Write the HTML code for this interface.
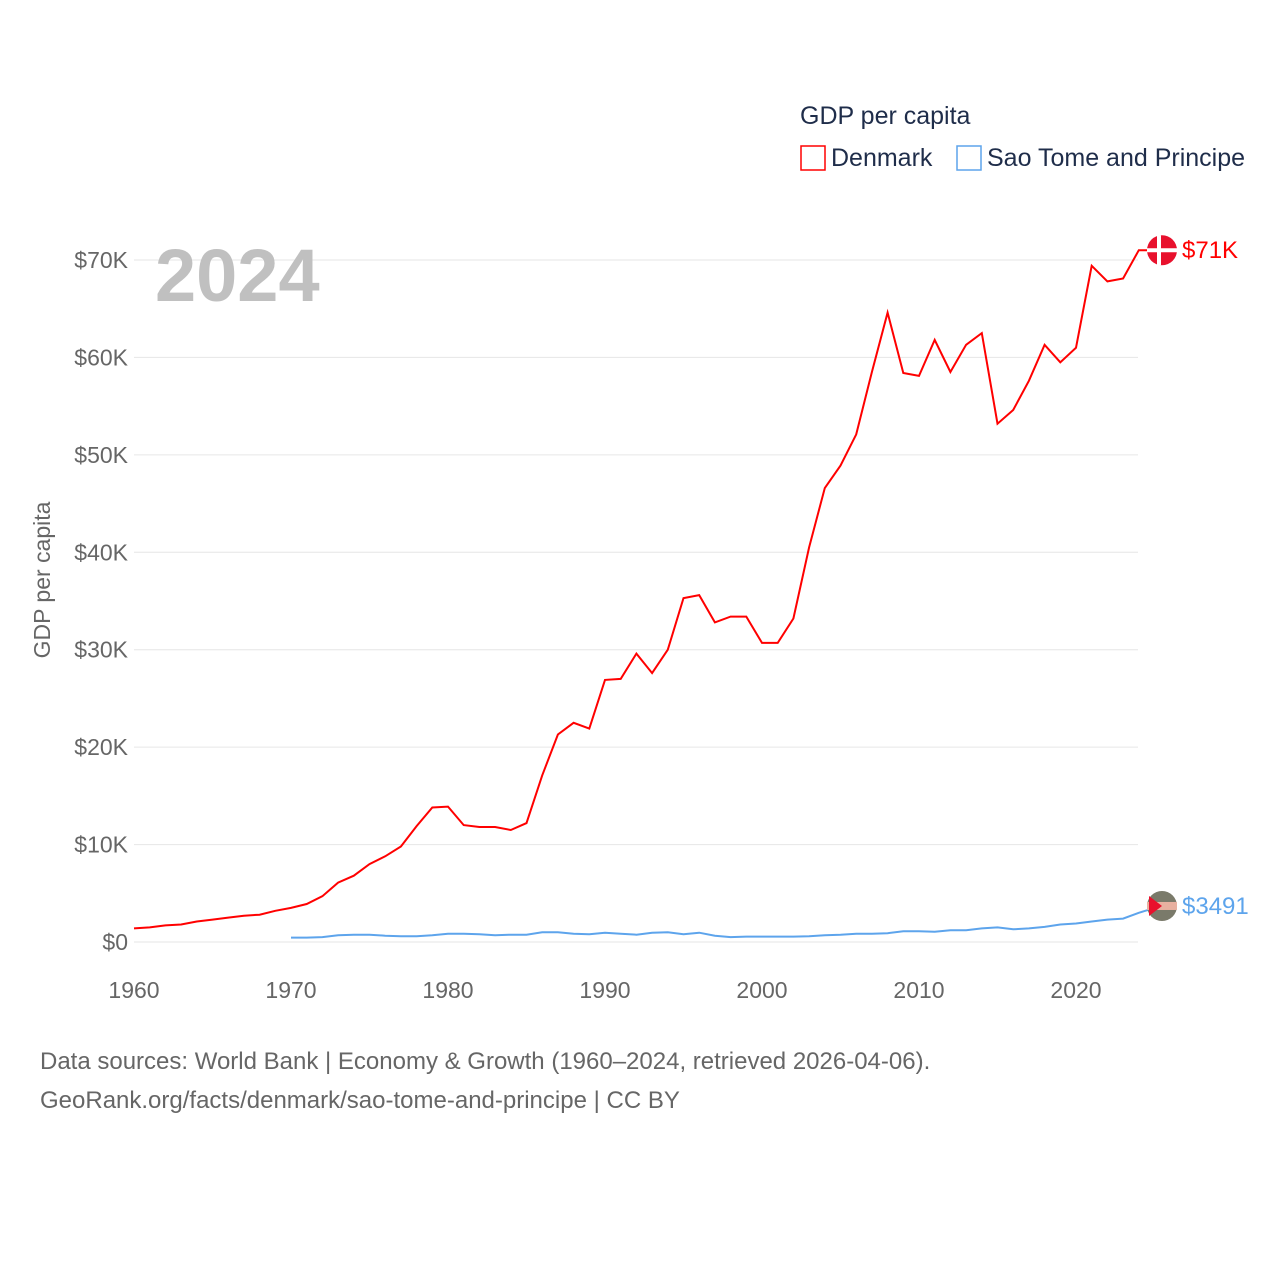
<!DOCTYPE html>
<html><head><meta charset="utf-8"><style>
body{margin:0;background:#fff;}
svg{display:block;font-family:"Liberation Sans",sans-serif;}
</style></head><body>
<svg id="chart" width="1280" height="1280" viewBox="0 0 1280 1280">
<text x="800" y="124" font-size="25" fill="#1f2d4a">GDP per capita</text>
<g>
<rect x="801" y="146" width="24" height="24" fill="none" stroke="#ff0000" stroke-width="1.5"/>
<text x="831" y="166" font-size="25" fill="#1f2d4a">Denmark</text></g>
<g>
<rect x="957" y="146" width="24" height="24" fill="none" stroke="#5da4ec" stroke-width="1.5"/>
<text x="987" y="166" font-size="25" fill="#1f2d4a">Sao Tome and Principe</text></g>
<g id="grid"></g>
<text x="155" y="301" font-size="74" font-weight="bold" fill="#c0c0c0">2024</text>
<text transform="translate(50,580) rotate(-90)" text-anchor="middle" font-size="23" fill="#666">GDP per capita</text>
<g id="series"></g>
<text x="40" y="1069" font-size="24" fill="#666">Data sources: World Bank | Economy &amp; Growth (1960–2024, retrieved 2026-04-06).</text>
<text x="40" y="1108" font-size="24" fill="#666">GeoRank.org/facts/denmark/sao-tome-and-principe | CC BY</text>
</svg>
<script>
const yTicks=[0,10,20,30,40,50,60,70];
const xTicks=[1960,1970,1980,1990,2000,2010,2020];
const denmarkYears0=1960;
const denmark=[1.4,1.5,1.7,1.8,2.1,2.3,2.5,2.7,2.8,3.2,3.5,3.9,4.7,6.1,6.8,8.0,8.8,9.8,11.9,13.8,13.9,12.0,11.8,11.8,11.5,12.2,17.1,21.3,22.5,21.9,26.9,27.0,29.6,27.6,30.0,35.3,35.6,32.8,33.4,33.4,30.7,30.7,33.2,40.5,46.6,48.9,52.1,58.5,64.6,58.4,58.1,61.8,58.5,61.3,62.5,53.2,54.6,57.6,61.3,59.5,61.0,69.4,67.8,68.1,71.0];
const stpYears0=1970;
const stp=[.45,.45,.5,.7,.75,.75,.65,.6,.6,.7,.85,.85,.8,.7,.75,.75,1.0,1.0,.85,.8,.95,.85,.75,.95,1.0,.8,.95,.65,.5,.55,.55,.55,.55,.6,.7,.75,.85,.85,.9,1.1,1.1,1.05,1.2,1.2,1.4,1.5,1.3,1.4,1.55,1.8,1.9,2.1,2.3,2.4,3.0,3.491];
const X=y=>134+(y-1960)*15.7;
const Y=v=>942-v*9.743;
const NS="http://www.w3.org/2000/svg";
function mk(t,a,p){const e=document.createElementNS(NS,t);for(const k in a)e.setAttribute(k,a[k]);p.appendChild(e);return e;}
const g=document.getElementById('grid');
yTicks.forEach(v=>{
 const l=mk('line',{x1:134,x2:1138,y1:Y(v),y2:Y(v),stroke:'#e6e6e6','stroke-width':1},g);
 
 
 const t=mk('text',{x:128,y:Y(v)+8,'text-anchor':'end','font-size':23,fill:'#666'},g);
 t.textContent=v===0?'$0':'$'+v+'K';
 
 
});
xTicks.forEach(y=>{
 const t=mk('text',{x:X(y),y:998,'text-anchor':'middle','font-size':23,fill:'#666'},g);
 t.textContent=y;
 
 
});
const s=document.getElementById('series');
function line(arr,y0,col,name){
 const d=arr.map((v,i)=>(i?'L':'M')+X(y0+i).toFixed(1)+','+Y(v).toFixed(1)).join('');
 const p=mk('path',{d:d+'L'+(X(y0+arr.length-1)+10)+','+Y(arr[arr.length-1]).toFixed(1),fill:'none',stroke:col,'stroke-width':2},s);
 
 
}
line(denmark,denmarkYears0,'#ff0000','denmark-line');
line(stp,stpYears0,'#5da4ec','sao-tome-line');
const dv=denmark[denmark.length-1], sv=stp[stp.length-1];
const dm=mk('g',{},s);


mk('circle',{cx:1162,cy:Y(dv),r:15,fill:'#e8112d'},dm);
mk('rect',{x:1157,y:Y(dv)-15,width:4,height:30,fill:'#fff'},dm);
mk('rect',{x:1147,y:Y(dv)-2,width:30,height:4,fill:'#fff'},dm);
const dl=mk('text',{x:1182,y:Y(dv)+8,'font-size':24,fill:'#ff0000'},s);
dl.textContent='$'+Math.round(dv)+'K';


const sm=mk('g',{},s);


const sy=Y(sv)-2;
mk('circle',{cx:1162,cy:sy,r:15,fill:'#7a7a6a'},sm);
mk('rect',{x:1147,y:sy-4,width:30,height:8,fill:'#e8b0a0'},sm);
mk('path',{d:`M1149,${sy-10}L1162,${sy}L1149,${sy+10}Z`,fill:'#e8112d'},sm);
const sl=mk('text',{x:1182,y:sy+8,'font-size':24,fill:'#5da4ec'},s);
sl.textContent='$'+Math.round(sv*1000);


</script>
</body></html>
